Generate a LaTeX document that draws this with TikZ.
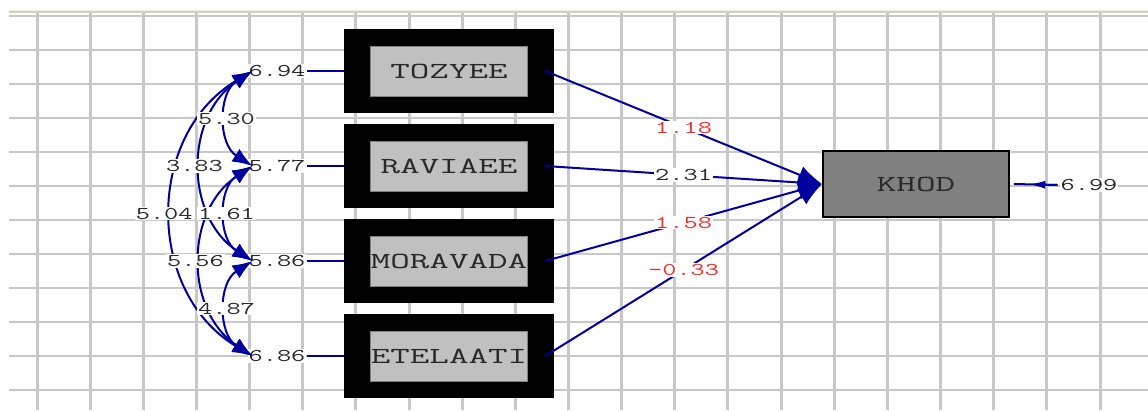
\documentclass[tikz,border=0pt]{standalone}
\usepackage{fontspec}
\usepackage{graphicx}
\usetikzlibrary{arrows.meta,calc}
\definecolor{lblue}{RGB}{0,0,160}
\definecolor{gridc}{RGB}{200,200,200}
\definecolor{lred}{RGB}{255,40,40}
\definecolor{boxgray}{RGB}{192,192,192}
\definecolor{boxedge}{RGB}{128,128,128}
\definecolor{khodgray}{RGB}{128,128,128}
\definecolor{txtc}{RGB}{40,40,40}
\definecolor{beigea}{RGB}{240,238,222}
\definecolor{beigeb}{RGB}{214,210,192}
\newcommand\mynum[1]{\scalebox{1.53}[1]{\fontsize{18}{18}\selectfont\ttfamily #1}}
\newcommand\mybox[1]{\scalebox{1.65}[1]{\fontsize{23}{23}\selectfont\ttfamily #1}}
\tikzset{
  vgrid/.style={gridc, line width=3pt},
  hgrid/.style={gridc, line width=2pt},
  outerbox/.style={rectangle, fill=black, minimum width=210pt, minimum height=84pt, inner sep=0pt},
  innerbox/.style={rectangle, fill=boxgray, draw=boxedge, line width=1pt, minimum width=157pt, minimum height=50pt, inner sep=0pt, text=txtc},
  khodbox/.style={rectangle, fill=khodgray, draw=black, line width=2pt, minimum width=186pt, minimum height=66pt, inner sep=0pt, text=txtc},
  lbl/.style={fill=white, inner sep=1pt, text=txtc},
  rlbl/.style={fill=white, inner sep=1pt, text=lred},
  lnk/.style={lblue, line width=2pt},
  covarr/.style={lblue, line width=2pt, arrows={Latex[length=20pt,width=15pt]-Latex[length=20pt,width=15pt]}},
  patharr/.style={lblue, line width=2pt, arrows={-Latex[length=24pt,width=18pt]}},
  errarr/.style={lblue, line width=2pt, arrows={-Latex[length=16pt,width=8pt]}},
}
\begin{document}
\begin{tikzpicture}[x=1pt,y=-1pt]
\useasboundingbox (0,0) rectangle (1148,410);
% top band
\fill[beigea] (9,9.5) rectangle (1148,11);
\fill[beigeb] (9,11) rectangle (1148,12.5);
% grid
\foreach \i in {0,...,20} \draw[vgrid] ({37+53.15*\i},12.5) -- ({37+53.15*\i},410);
\foreach \j in {0,...,11} \draw[hgrid] (9,{16+34*\j}) -- (1148,{16+34*\j});
% variance labels
\node[lbl] (v1) at (277,71) {\mynum{6.94}};
\node[lbl] (v2) at (277,166) {\mynum{5.77}};
\node[lbl] (v3) at (277,261) {\mynum{5.86}};
\node[lbl] (v4) at (277,356) {\mynum{6.86}};
% boxes
\node[outerbox] (t) at (449,71) {};
\node[outerbox] (r) at (449,166) {};
\node[outerbox] (m) at (449,261) {};
\node[outerbox] (e) at (449,356) {};
\draw[lnk] (v1.east) -- (t.west);
\draw[lnk] (v2.east) -- (r.west);
\draw[lnk] (v3.east) -- (m.west);
\draw[lnk] (v4.east) -- (e.west);
\node[innerbox] (ti) at (t.center) {\mybox{TOZYEE}};
\node[innerbox] (ri) at (r.center) {\mybox{RAVIAEE}};
\node[innerbox] (mi) at (m.center) {\mybox{MORAVADA}};
\node[innerbox] (ei) at (e.center) {\mybox{ETELAATI}};
\node[khodbox] (k) at (916,184) {\mybox{KHOD}};
% error on KHOD
\node[lbl] (ek) at (1089,185) {\mynum{6.99}};
\coordinate (ekt) at ([xshift=4pt]k.east);
\draw[lnk] ([xshift=-2pt]ek.west) -- (ekt);
\draw[errarr] ([xshift=-2pt]ek.west) -- ($(ekt)!0.35!([xshift=-2pt]ek.west)$);
% covariance end points
\coordinate (c1) at ([xshift=5pt]v1.west);
\coordinate (c2) at ([xshift=5pt]v2.west);
\coordinate (c3) at ([xshift=5pt]v3.west);
\coordinate (c4) at ([xshift=5pt]v4.west);
% covariance curves (near-circular arcs)
\draw[covarr] (c1) .. controls ($(c1)+(-34.6,22)$) and ($(c2)+(-34.6,-22)$) .. (c2) coordinate[pos=0.5] (m12);
\draw[covarr] (c2) .. controls ($(c2)+(-34.6,22)$) and ($(c3)+(-34.6,-22)$) .. (c3) coordinate[pos=0.5] (m23);
\draw[covarr] (c3) .. controls ($(c3)+(-34.6,22)$) and ($(c4)+(-34.6,-22)$) .. (c4) coordinate[pos=0.5] (m34);
\draw[covarr] (c1) .. controls ($(c1)+(-68,45)$) and ($(c3)+(-68,-45)$) .. (c3) coordinate[pos=0.5] (m13);
\draw[covarr] (c2) .. controls ($(c2)+(-68,45)$) and ($(c4)+(-68,-45)$) .. (c4) coordinate[pos=0.5] (m24);
\draw[covarr] (c1) .. controls ($(c1)+(-107,64)$) and ($(c4)+(-107,-64)$) .. (c4) coordinate[pos=0.5] (m14);
\node[lbl] (l12) at (m12) {\mynum{5.30}};
\node[lbl] (l13) at ([xshift=-7pt]m13) {\mynum{3.83}};
\node[lbl] (l14) at ([xshift=-8pt]m14) {\mynum{5.04}};
\node[lbl] (l23) at (m23) {\mynum{1.61}};
\node[lbl] (l24) at ([xshift=-6pt]m24) {\mynum{5.56}};
\node[lbl] (l34) at (m34) {\mynum{4.87}};
% paths to KHOD
\draw[patharr] ([xshift=-9pt]t.east) -- (k.west) coordinate[pos=0.5] (p1);
\draw[patharr] ([xshift=-9pt]r.east) -- (k.west) coordinate[pos=0.5] (p2);
\draw[patharr] ([xshift=-9pt]m.east) -- (k.west) coordinate[pos=0.5] (p3);
\draw[patharr] ([xshift=-9pt]e.east) -- (k.west) coordinate[pos=0.5] (p4);
\node[rlbl] (g1) at (p1) {\mynum{1.18}};
\node[lbl] (g2) at (p2) {\mynum{2.31}};
\node[rlbl] (g3) at (p3) {\mynum{1.58}};
\node[rlbl] (g4) at (p4) {\mynum{-0.33}};
\end{tikzpicture}
\end{document}
